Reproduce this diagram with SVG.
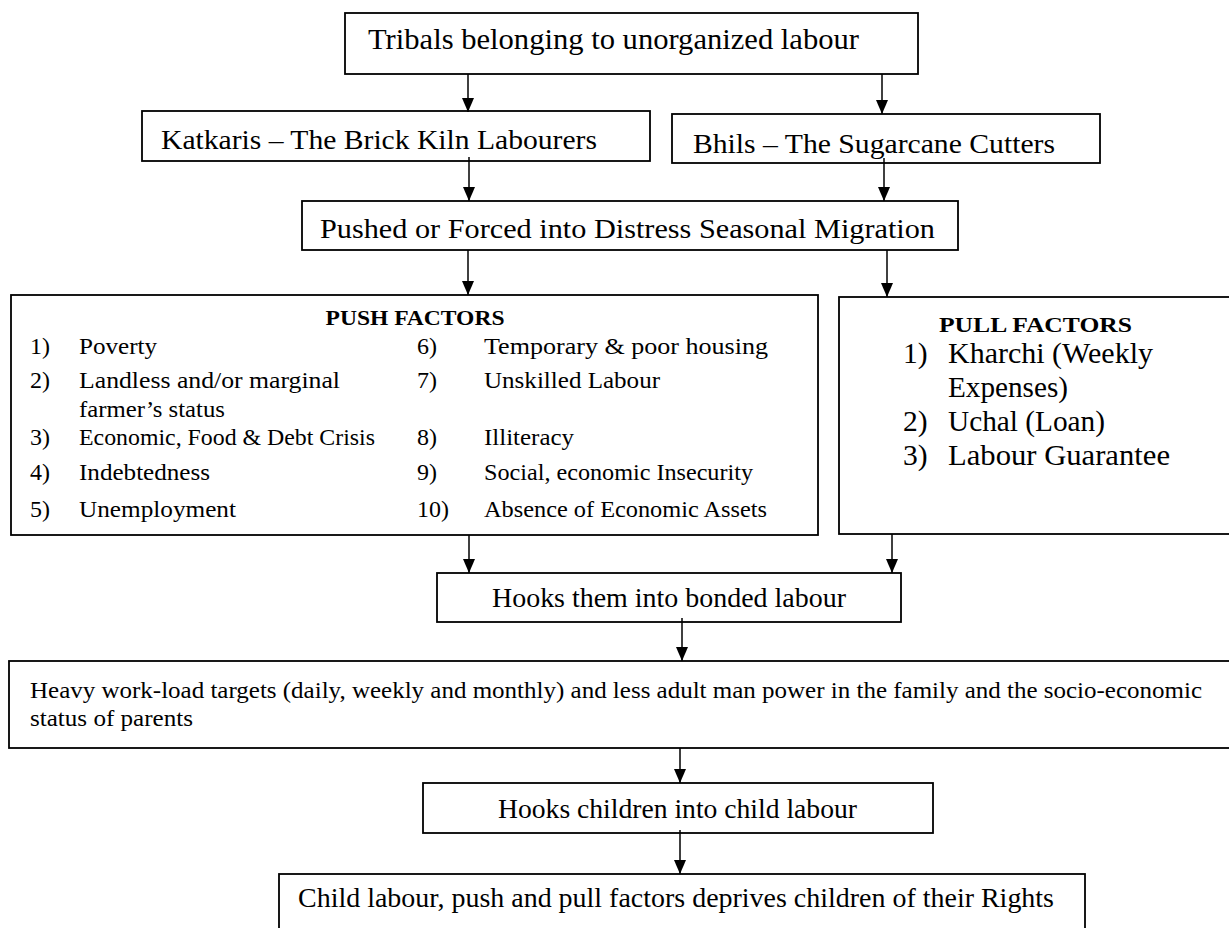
<svg xmlns="http://www.w3.org/2000/svg" width="1229" height="928" viewBox="0 0 1229 928">
<style>
.box{fill:#fff;stroke:#000;stroke-width:1.8}
.t{font-family:"Liberation Serif","Times New Roman",serif;fill:#000}
.b{font-weight:bold}
.c{stroke:#000;stroke-width:1.5;fill:none}
</style>
<defs>
<marker id="ah" viewBox="0 0 14 12" refX="14" refY="6" markerWidth="14" markerHeight="12" markerUnits="userSpaceOnUse" orient="auto">
<path d="M0,0 L14,6 L0,12 z" fill="#000"/>
</marker>
<clipPath id="bhclip"><rect x="672" y="114" width="428" height="46"/></clipPath>
</defs>
<rect width="1229" height="928" fill="#fff"/>

<g id="n-top">
<rect class="box" x="345" y="13" width="573" height="61"/>
<text class="t" x="368" y="49" font-size="29" textLength="491" lengthAdjust="spacingAndGlyphs">Tribals belonging to unorganized labour</text>
</g>
<g id="n-katkaris">
<rect class="box" x="142" y="111" width="508" height="50"/>
<text class="t" x="161" y="149" font-size="28" textLength="436" lengthAdjust="spacingAndGlyphs">Katkaris – The Brick Kiln Labourers</text>
</g>
<g id="n-bhils">
<rect class="box" x="672" y="114" width="428" height="49"/>
<text class="t" x="693" y="153" font-size="28" textLength="362" lengthAdjust="spacingAndGlyphs" clip-path="url(#bhclip)">Bhils – The Sugarcane Cutters</text>
</g>
<g id="n-pushed">
<rect class="box" x="302" y="201" width="656" height="49"/>
<text class="t" x="320" y="238" font-size="28" textLength="615" lengthAdjust="spacingAndGlyphs">Pushed or Forced into Distress Seasonal Migration</text>
</g>
<g id="n-push">
<rect class="box" x="11" y="295" width="807" height="240"/>
<text class="t b" x="415" y="325" font-size="21" text-anchor="middle" textLength="179" lengthAdjust="spacingAndGlyphs">PUSH FACTORS</text>
<g class="t" font-size="24">
<text x="30" y="354">1)</text><text x="79" y="354" textLength="78" lengthAdjust="spacingAndGlyphs">Poverty</text>
<text x="30" y="388">2)</text><text x="79" y="388" textLength="261" lengthAdjust="spacingAndGlyphs">Landless and/or marginal</text>
<text x="79" y="417" textLength="146" lengthAdjust="spacingAndGlyphs">farmer’s status</text>
<text x="30" y="445">3)</text><text x="79" y="445" textLength="296" lengthAdjust="spacingAndGlyphs">Economic, Food &amp; Debt Crisis</text>
<text x="30" y="480">4)</text><text x="79" y="480" textLength="131" lengthAdjust="spacingAndGlyphs">Indebtedness</text>
<text x="30" y="517">5)</text><text x="79" y="517" textLength="157" lengthAdjust="spacingAndGlyphs">Unemployment</text>
<text x="417" y="354">6)</text><text x="484" y="354" textLength="284" lengthAdjust="spacingAndGlyphs">Temporary &amp; poor housing</text>
<text x="417" y="388">7)</text><text x="484" y="388" textLength="176" lengthAdjust="spacingAndGlyphs">Unskilled Labour</text>
<text x="417" y="445">8)</text><text x="484" y="445" textLength="90" lengthAdjust="spacingAndGlyphs">Illiteracy</text>
<text x="417" y="480">9)</text><text x="484" y="480" textLength="269" lengthAdjust="spacingAndGlyphs">Social, economic Insecurity</text>
<text x="417" y="517">10)</text><text x="484" y="517" textLength="283" lengthAdjust="spacingAndGlyphs">Absence of Economic Assets</text>
</g>
</g>
<g id="n-pull">
<rect class="box" x="839" y="297" width="400" height="237"/>
<text class="t b" x="939" y="332" font-size="22" textLength="193" lengthAdjust="spacingAndGlyphs">PULL FACTORS</text>
<g class="t" font-size="29.5">
<text x="903" y="363">1)</text><text x="948" y="363" textLength="205" lengthAdjust="spacingAndGlyphs">Kharchi (Weekly</text>
<text x="948" y="397" textLength="120" lengthAdjust="spacingAndGlyphs">Expenses)</text>
<text x="903" y="431">2)</text><text x="948" y="431" textLength="157" lengthAdjust="spacingAndGlyphs">Uchal (Loan)</text>
<text x="903" y="465">3)</text><text x="948" y="465" textLength="222" lengthAdjust="spacingAndGlyphs">Labour Guarantee</text>
</g>
</g>
<g id="n-bonded">
<rect class="box" x="437" y="573" width="464" height="49"/>
<text class="t" x="492" y="607" font-size="27" textLength="354" lengthAdjust="spacingAndGlyphs">Hooks them into bonded labour</text>
</g>
<g id="n-heavy">
<rect class="box" x="9" y="661" width="1240" height="87"/>
<text class="t" x="30" y="698" font-size="23.5" textLength="1172" lengthAdjust="spacingAndGlyphs">Heavy work-load targets (daily, weekly and monthly) and less adult man power in the family and the socio-economic</text>
<text class="t" x="30" y="726" font-size="23.5" textLength="163" lengthAdjust="spacingAndGlyphs">status of parents</text>
</g>
<g id="n-children">
<rect class="box" x="423" y="783" width="510" height="50"/>
<text class="t" x="498" y="818" font-size="27" textLength="359" lengthAdjust="spacingAndGlyphs">Hooks children into child labour</text>
</g>
<g id="n-rights">
<rect class="box" x="279" y="874" width="806" height="80"/>
<text class="t" x="298" y="907" font-size="27" textLength="756" lengthAdjust="spacingAndGlyphs">Child labour, push and pull factors deprives children of their Rights</text>
</g>

<g id="connectors" class="c">
<line x1="468" y1="74" x2="468" y2="112" marker-end="url(#ah)"/>
<line x1="882" y1="74" x2="882" y2="114" marker-end="url(#ah)"/>
<line x1="469" y1="157" x2="469" y2="201" marker-end="url(#ah)"/>
<line x1="884" y1="158" x2="884" y2="201" marker-end="url(#ah)"/>
<line x1="468" y1="250" x2="468" y2="295" marker-end="url(#ah)"/>
<line x1="887" y1="250" x2="887" y2="297" marker-end="url(#ah)"/>
<line x1="469" y1="535" x2="469" y2="573" marker-end="url(#ah)"/>
<line x1="892" y1="534" x2="892" y2="573" marker-end="url(#ah)"/>
<line x1="682" y1="618" x2="682" y2="661" marker-end="url(#ah)"/>
<line x1="680" y1="748" x2="680" y2="783" marker-end="url(#ah)"/>
<line x1="680" y1="830" x2="680" y2="874" marker-end="url(#ah)"/>
</g>
</svg>
